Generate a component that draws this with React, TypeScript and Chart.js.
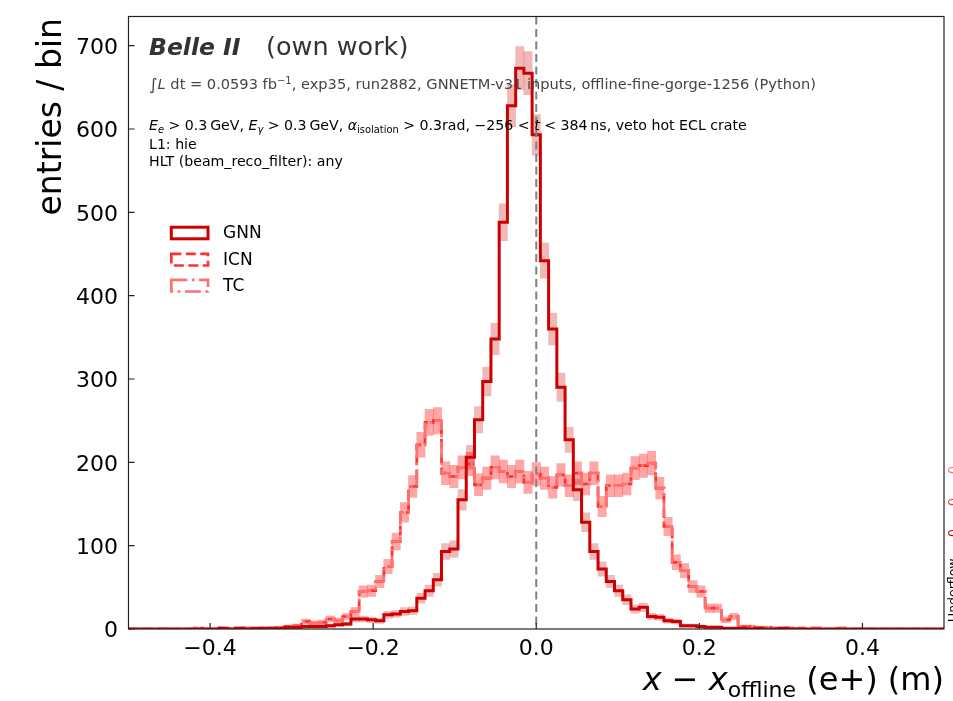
import React, { useEffect, useRef } from "react";
import { Chart, registerables } from "chart.js";

Chart.register(...registerables);

// ---------------- data ----------------
const X_MIN = -0.5;
const X_MAX = 0.5;
const N_BINS = 99;
const Y_MAX = 735;

const SERIES_NAMES = ["GNN", "ICN", "TC"];

const gnnCounts = [
  0, 0, 0, 0, 0, 0, 0, 0, 0, 0,
  0, 1, 0, 1, 0, 1, 1, 1, 1, 2,
  2, 3, 3, 3, 4, 5, 6, 12, 12, 11,
  10, 17, 18, 21, 22, 37, 46, 59, 93, 96,
  155, 206, 251, 297, 348, 488, 628, 673, 667, 593,
  442, 360, 290, 227, 167, 128, 93, 72, 57, 46,
  35, 24, 26, 15, 14, 10, 9, 4, 4, 3,
  2, 2, 1, 1, 1, 0, 1, 0, 0, 1,
  0, 0, 0, 0, 0, 0, 0, 0, 0, 0,
  0, 0, 0, 0, 0, 0, 0, 0, 0,
];

const icnCounts = [
  0, 0, 0, 0, 0, 0, 0, 0, 1, 0,
  0, 1, 0, 1, 1, 0, 1, 1, 2, 3,
  4, 9, 7, 8, 12, 10, 15, 21, 45, 46,
  57, 75, 105, 140, 171, 221, 248, 250, 187, 183,
  194, 198, 173, 181, 194, 189, 183, 189, 176, 186,
  181, 170, 185, 172, 187, 174, 187, 147, 172, 172,
  174, 193, 196, 199, 169, 123, 80, 70, 51, 45,
  25, 25, 11, 15, 3, 3, 2, 2, 1, 1,
  1, 1, 0, 1, 0, 0, 1, 0, 0, 0,
  0, 0, 0, 0, 0, 0, 0, 0, 0,
];

const tcCounts = [
  0, 0, 0, 0, 0, 0, 0, 0, 1, 0,
  0, 1, 0, 1, 1, 0, 1, 1, 2, 3,
  4, 9, 7, 8, 12, 10, 15, 21, 45, 46,
  57, 75, 105, 140, 171, 221, 248, 250, 187, 183,
  194, 198, 173, 181, 194, 189, 183, 189, 176, 186,
  181, 170, 185, 172, 187, 174, 187, 147, 172, 172,
  174, 193, 196, 199, 169, 123, 80, 70, 51, 45,
  25, 25, 11, 15, 3, 3, 2, 2, 1, 1,
  1, 1, 0, 1, 0, 0, 1, 0, 0, 0,
  0, 0, 0, 0, 0, 0, 0, 0, 0,
];

const X_TICKS = [-0.4, -0.2, 0.0, 0.2, 0.4];
const Y_TICKS = [0, 100, 200, 300, 400, 500, 600, 700];
const UNDERFLOW_VALUES = ["0", "0", "0"];

// ---------------- styles ----------------
const FONT = "'DejaVu Sans', 'Liberation Sans', sans-serif";
const COLORS = ["#cc0000", "#ff3030", "#ff7070"];
const BAND_COLORS = [
  "rgba(204,0,0,0.28)",
  "rgba(255,48,48,0.28)",
  "rgba(255,112,112,0.3)",
];
const DASHES: number[][] = [[], [10, 4.5], [16, 4.5, 2.7, 4.5]];
const LINE_WIDTHS = [3, 2.7, 2.7];
const LINE_ORDER = [0, 2, 1];

const binEdges = Array.from(
  { length: N_BINS + 1 },
  (_, i) => X_MIN + ((X_MAX - X_MIN) * i) / N_BINS
);

function stepData(counts: number[]) {
  const pts = counts.map((c, i) => ({ x: binEdges[i], y: c }));
  pts.push({ x: binEdges[N_BINS], y: counts[N_BINS - 1] });
  return pts;
}

function bandData(counts: number[]) {
  return counts.map((c, i) => {
    const e = Math.sqrt(c);
    return { x: (binEdges[i] + binEdges[i + 1]) / 2, y: [c - e, c + e] };
  });
}

const fmtX = (v: number) => v.toFixed(1).replace("-", "−");

type Seg = { t: string; style?: string; size?: number; dy?: number };

function segWidth(ctx: CanvasRenderingContext2D, segs: Seg[], base: number) {
  let w = 0;
  for (const s of segs) {
    ctx.font = `${s.style ?? ""} ${s.size ?? base}px ${FONT}`;
    w += ctx.measureText(s.t).width;
  }
  return w;
}

function drawRich(
  ctx: CanvasRenderingContext2D,
  segs: Seg[],
  x: number,
  y: number,
  base: number,
  color: string
) {
  let cx = x;
  ctx.fillStyle = color;
  ctx.textAlign = "left";
  ctx.textBaseline = "alphabetic";
  for (const s of segs) {
    ctx.font = `${s.style ?? ""} ${s.size ?? base}px ${FONT}`;
    ctx.fillText(s.t, cx, y + (s.dy ?? 0));
    cx += ctx.measureText(s.t).width;
  }
  return cx;
}

const decorPlugin = {
  id: "decor",
  afterDatasetsDraw(chart: any) {
    const { ctx, chartArea: a, scales } = chart;
    ctx.save();
    // zero line
    const x0 = scales.x.getPixelForValue(0);
    ctx.strokeStyle = "#808080";
    ctx.lineWidth = 2;
    ctx.setLineDash([8, 4.5]);
    ctx.beginPath();
    ctx.moveTo(x0, a.top);
    ctx.lineTo(x0, a.bottom);
    ctx.stroke();
    ctx.setLineDash([]);

    // frame
    ctx.strokeStyle = "#222";
    ctx.lineWidth = 1.2;
    ctx.strokeRect(a.left, a.top, a.right - a.left, a.bottom - a.top);
    // inward ticks + tick labels
    ctx.beginPath();
    for (const v of Y_TICKS) {
      const y = scales.y.getPixelForValue(v);
      ctx.moveTo(a.left, y);
      ctx.lineTo(a.left + 6, y);
    }
    for (const v of X_TICKS) {
      const x = scales.x.getPixelForValue(v);
      ctx.moveTo(x, a.bottom);
      ctx.lineTo(x, a.bottom - 6);
    }
    ctx.stroke();

    ctx.fillStyle = "#000";
    ctx.font = `22px ${FONT}`;
    ctx.textBaseline = "alphabetic";
    ctx.textAlign = "right";
    for (const v of Y_TICKS) {
      const y = scales.y.getPixelForValue(v);
      ctx.fillText(String(v), a.left - 10.5, y + 8.2);
    }
    ctx.textAlign = "center";
    for (const v of X_TICKS) {
      const x = scales.x.getPixelForValue(v);
      ctx.fillText(fmtX(v), x, a.bottom + 26);
    }
    ctx.restore();
  },
  afterDraw(chart: any) {
    const { ctx, chartArea: a } = chart;
    ctx.save();

    // Belle II header
    ctx.fillStyle = "#333";
    ctx.textBaseline = "alphabetic";
    ctx.textAlign = "left";
    ctx.font = `italic bold 23.5px ${FONT}`;
    ctx.fillText("Belle II", 149, 55);
    ctx.font = `25.5px ${FONT}`;
    ctx.fillText("(own work)", 266, 55);

    // lumi line
    drawRich(
      ctx,
      [
        { t: "∫", size: 16.5, dy: 1 },
        { t: "L", style: "italic" },
        { t: " dt = 0.0593 fb" },
        { t: "−1", size: 10, dy: -5.5 },
        { t: ", exp35, run2882, GNNETM-v31 inputs, offline-fine-gorge-1256 (Python)" },
      ],
      149,
      89,
      14.6,
      "#444"
    );

    // selection line
    drawRich(
      ctx,
      [
        { t: "E", style: "italic" },
        { t: "e", style: "italic", size: 9.9, dy: 3 },
        { t: " > 0.3\u2009GeV, " },
        { t: "E", style: "italic" },
        { t: "γ", style: "italic", size: 9.9, dy: 3 },
        { t: " > 0.3\u2009GeV, " },
        { t: "α", style: "italic" },
        { t: "isolation", size: 9.9, dy: 3 },
        { t: " > 0.3rad, −256 < " },
        { t: "t", style: "italic" },
        { t: " < 384\u2009ns, veto hot ECL crate" },
      ],
      149,
      130,
      14.15,
      "#000"
    );
    drawRich(ctx, [{ t: "L1: hie" }], 149, 149, 14.15, "#000");
    drawRich(ctx, [{ t: "HLT (beam_reco_filter): any" }], 149, 166, 14.15, "#000");

    // legend
    const rowY = [233, 259.7, 285.7];
    SERIES_NAMES.forEach((name, i) => {
      const cy = rowY[i];
      ctx.strokeStyle = COLORS[i];
      ctx.lineWidth = LINE_WIDTHS[i];
      ctx.setLineDash(DASHES[i]);
      ctx.strokeRect(171.3, cy - 5.8, 36.7, 11.6);
      ctx.setLineDash([]);
      ctx.fillStyle = "#000";
      ctx.font = `17px ${FONT}`;
      ctx.textBaseline = "middle";
      ctx.fillText(name, 223, cy + 1);
    });

    // y label
    ctx.save();
    ctx.translate(61, 18);
    ctx.rotate(-Math.PI / 2);
    ctx.font = `33px ${FONT}`;
    ctx.fillStyle = "#000";
    ctx.textAlign = "right";
    ctx.textBaseline = "alphabetic";
    ctx.fillText("entries / bin", 0, 0);
    ctx.restore();

    // x label
    const xl: Seg[] = [
      { t: "x", style: "italic" },
      { t: " − " },
      { t: "x", style: "italic" },
      { t: "offline", size: 22, dy: 7 },
      { t: " (e+) (m)" },
    ];
    const w = segWidth(ctx, xl, 32);
    drawRich(ctx, xl, a.right - w, 690, 32, "#000");

    // underflow text (clipped at right edge)
    ctx.save();
    ctx.translate(957, 622);
    ctx.rotate(-Math.PI / 2);
    ctx.font = `12.5px ${FONT}`;
    ctx.fillStyle = "#000";
    ctx.textAlign = "left";
    ctx.textBaseline = "alphabetic";
    ctx.fillText("Underflow", 0, 0);
    const ys = [85, 116, 148];
    UNDERFLOW_VALUES.forEach((t, i) => {
      ctx.fillStyle = COLORS[i];
      ctx.fillText(t, ys[i], 0);
    });
    ctx.restore();

    ctx.restore();
  },
};

export default function App() {
  const ref = useRef<HTMLCanvasElement>(null);
  useEffect(() => {
    if (!ref.current) return;
    const allCounts = [gnnCounts, icnCounts, tcCounts];
    const lineSets = allCounts.map((c, i) => ({
      type: "line" as const,
      label: SERIES_NAMES[i],
      data: stepData(c),
      stepped: true,
      borderColor: COLORS[i],
      borderWidth: LINE_WIDTHS[i],
      borderDash: DASHES[i],
      borderJoinStyle: "miter" as const,
      borderCapStyle: "butt" as const,
      pointRadius: 0,
      fill: false,
      order: LINE_ORDER[i],
    }));
    const bandSets = allCounts.map((c, i) => ({
      type: "bar" as const,
      label: SERIES_NAMES[i] + " err",
      data: bandData(c),
      backgroundColor: BAND_COLORS[i],
      borderWidth: 0,
      barPercentage: 1,
      categoryPercentage: 1,
      grouped: false,
      order: 3 + i,
    }));
    const chart = new Chart(ref.current, {
      type: "line",
      data: { datasets: [...lineSets, ...bandSets] as any },
      options: {
        animation: false,
        responsive: false,
        maintainAspectRatio: false,
        devicePixelRatio: 1,
        events: [],
        layout: { padding: { left: 0, top: 16.5, right: 9, bottom: 0 } },
        plugins: { legend: { display: false }, tooltip: { enabled: false } },
        scales: {
          x: {
            type: "linear",
            min: X_MIN,
            max: X_MAX,
            offset: false,
            grid: { display: false, drawTicks: false },
            border: { display: false },
            ticks: { display: false },
            afterBuildTicks: (s: any) => {
              s.ticks = X_TICKS.map((v) => ({ value: v }));
            },
            afterFit: (s: any) => {
              s.height = 72;
              s.paddingLeft = 0;
              s.paddingRight = 0;
            },
          },
          y: {
            type: "linear",
            min: 0,
            max: Y_MAX,
            grid: { display: false, drawTicks: false },
            border: { display: false },
            ticks: { display: false },
            afterBuildTicks: (s: any) => {
              s.ticks = Y_TICKS.map((v) => ({ value: v }));
            },
            afterFit: (s: any) => {
              s.width = 128.5;
              s.paddingTop = 0;
              s.paddingBottom = 0;
            },
          },
        },
      } as any,
      plugins: [decorPlugin],
    });
    return () => chart.destroy();
  }, []);
  return (
    <div
      style={{
        position: "absolute",
        left: 0,
        top: 0,
        width: 953,
        height: 701,
        background: "#fff",
        overflow: "hidden",
      }}
    >
      <canvas
        ref={ref}
        width={953}
        height={701}
        style={{ display: "block", width: 953, height: 701 }}
      />
    </div>
  );
}
